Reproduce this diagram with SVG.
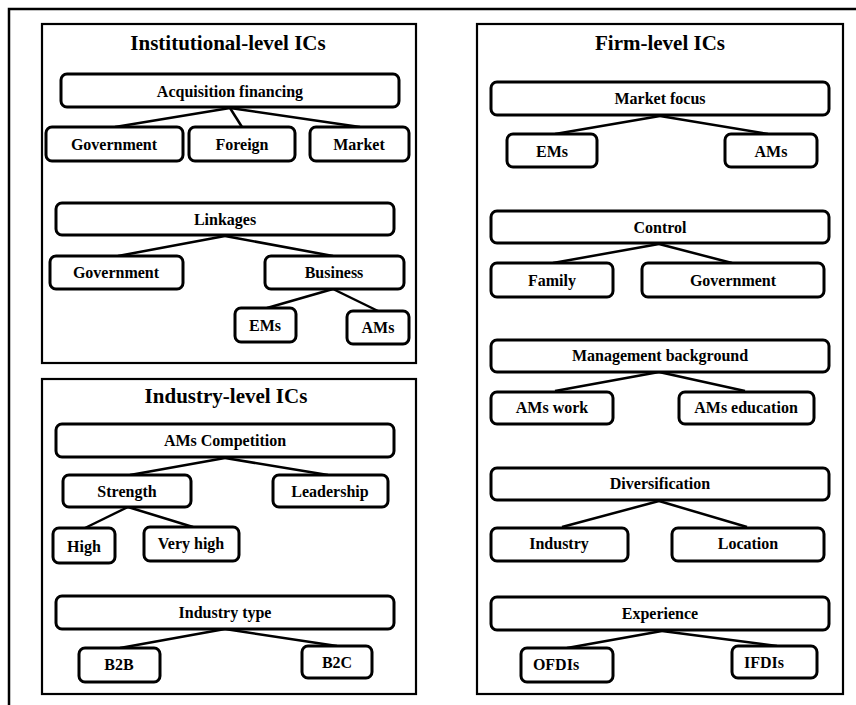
<svg xmlns="http://www.w3.org/2000/svg" width="856" height="705" viewBox="0 0 856 705">
<style>
.frame{fill:none;stroke:#000;stroke-width:2.5}
.panel{fill:none;stroke:#000;stroke-width:2.2}
.box{fill:#fff;stroke:#000;stroke-width:3}
text{font-family:'Liberation Serif','DejaVu Serif',serif;font-weight:bold;text-anchor:middle;fill:#000}
.title{font-size:21px}
.lbl{font-size:16px}
.conn line{stroke:#000;stroke-width:2.5}
</style>
<rect width="856" height="705" fill="#fff"/>
<path class="frame" d="M9,705 V9 H856"/>

<g id="panel-institutional">
<rect class="panel" x="42" y="24" width="374" height="339"/>
<text class="title" x="228" y="50">Institutional-level ICs</text>
</g>
<g id="panel-industry">
<rect class="panel" x="42" y="379" width="374" height="315"/>
<text class="title" x="226" y="403">Industry-level ICs</text>
</g>
<g id="panel-firm">
<rect class="panel" x="477" y="24" width="366" height="670"/>
<text class="title" x="660" y="50">Firm-level ICs</text>
</g>

<g id="connectors" class="conn">
<line x1="230" y1="108" x2="115" y2="127"/>
<line x1="230" y1="108" x2="242" y2="127"/>
<line x1="230" y1="108" x2="360" y2="127"/>
<line x1="225" y1="236" x2="118" y2="256"/>
<line x1="225" y1="236" x2="333" y2="256"/>
<line x1="333" y1="289" x2="267" y2="308"/>
<line x1="333" y1="289" x2="378" y2="311"/>
<line x1="225" y1="458" x2="130" y2="475"/>
<line x1="225" y1="458" x2="328" y2="475"/>
<line x1="128" y1="507" x2="85" y2="528"/>
<line x1="128" y1="507" x2="193" y2="527"/>
<line x1="225" y1="629" x2="120" y2="648"/>
<line x1="225" y1="629" x2="337" y2="646"/>
<line x1="660" y1="116" x2="555" y2="134"/>
<line x1="660" y1="116" x2="768" y2="134"/>
<line x1="659" y1="244" x2="553" y2="263"/>
<line x1="659" y1="244" x2="732" y2="263"/>
<line x1="659" y1="372" x2="555" y2="391"/>
<line x1="659" y1="372" x2="745" y2="391"/>
<line x1="659" y1="501" x2="562" y2="527"/>
<line x1="659" y1="501" x2="747" y2="527"/>
<line x1="662" y1="631" x2="567" y2="648"/>
<line x1="662" y1="631" x2="777" y2="646"/>
</g>

<g id="acquisition-financing"><rect class="box" x="61" y="74" width="338" height="33" rx="6"/><text class="lbl" x="230" y="97">Acquisition financing</text></g>
<g id="af-government"><rect class="box" x="46" y="127" width="137" height="34" rx="6"/><text class="lbl" x="114" y="150">Government</text></g>
<g id="af-foreign"><rect class="box" x="189" y="127" width="106" height="34" rx="6"/><text class="lbl" x="242" y="150">Foreign</text></g>
<g id="af-market"><rect class="box" x="310" y="127" width="99" height="34" rx="6"/><text class="lbl" x="359" y="150">Market</text></g>

<g id="linkages"><rect class="box" x="56" y="203" width="338" height="32" rx="6"/><text class="lbl" x="225" y="225">Linkages</text></g>
<g id="lk-government"><rect class="box" x="50" y="256" width="133" height="33" rx="6"/><text class="lbl" x="116" y="278">Government</text></g>
<g id="lk-business"><rect class="box" x="265" y="256" width="139" height="33" rx="6"/><text class="lbl" x="334" y="278">Business</text></g>
<g id="lk-ems"><rect class="box" x="235" y="308" width="61" height="34" rx="6"/><text class="lbl" x="265" y="331">EMs</text></g>
<g id="lk-ams"><rect class="box" x="347" y="311" width="62" height="33" rx="6"/><text class="lbl" x="378" y="333">AMs</text></g>

<g id="ams-competition"><rect class="box" x="56" y="424" width="338" height="33" rx="6"/><text class="lbl" x="225" y="446">AMs Competition</text></g>
<g id="strength"><rect class="box" x="63" y="475" width="128" height="32" rx="6"/><text class="lbl" x="127" y="497">Strength</text></g>
<g id="leadership"><rect class="box" x="273" y="475" width="115" height="32" rx="6"/><text class="lbl" x="330" y="497">Leadership</text></g>
<g id="high"><rect class="box" x="53" y="528" width="62" height="35" rx="6"/><text class="lbl" x="84" y="552">High</text></g>
<g id="very-high"><rect class="box" x="144" y="527" width="95" height="34" rx="6"/><text class="lbl" x="191" y="549">Very high</text></g>

<g id="industry-type"><rect class="box" x="56" y="596" width="338" height="33" rx="6"/><text class="lbl" x="225" y="618">Industry type</text></g>
<g id="b2b"><rect class="box" x="79" y="648" width="81" height="34" rx="6"/><text class="lbl" x="119" y="670">B2B</text></g>
<g id="b2c"><rect class="box" x="302" y="646" width="70" height="32" rx="6"/><text class="lbl" x="337" y="668">B2C</text></g>

<g id="market-focus"><rect class="box" x="491" y="82" width="338" height="33" rx="6"/><text class="lbl" x="660" y="104">Market focus</text></g>
<g id="mf-ems"><rect class="box" x="507" y="134" width="90" height="33" rx="6"/><text class="lbl" x="552" y="157">EMs</text></g>
<g id="mf-ams"><rect class="box" x="725" y="134" width="92" height="33" rx="6"/><text class="lbl" x="771" y="157">AMs</text></g>

<g id="control"><rect class="box" x="491" y="211" width="338" height="32" rx="6"/><text class="lbl" x="660" y="233">Control</text></g>
<g id="family"><rect class="box" x="491" y="263" width="122" height="34" rx="6"/><text class="lbl" x="552" y="286">Family</text></g>
<g id="ctl-government"><rect class="box" x="642" y="263" width="182" height="34" rx="6"/><text class="lbl" x="733" y="286">Government</text></g>

<g id="management-background"><rect class="box" x="491" y="340" width="338" height="32" rx="6"/><text class="lbl" x="660" y="361">Management background</text></g>
<g id="ams-work"><rect class="box" x="491" y="392" width="122" height="32" rx="6"/><text class="lbl" x="552" y="413">AMs work</text></g>
<g id="ams-education"><rect class="box" x="679" y="392" width="135" height="32" rx="6"/><text class="lbl" x="746" y="413">AMs education</text></g>

<g id="diversification"><rect class="box" x="491" y="468" width="338" height="32" rx="6"/><text class="lbl" x="660" y="489">Diversification</text></g>
<g id="div-industry"><rect class="box" x="491" y="528" width="137" height="33" rx="6"/><text class="lbl" x="559" y="549">Industry</text></g>
<g id="div-location"><rect class="box" x="672" y="528" width="152" height="33" rx="6"/><text class="lbl" x="748" y="549">Location</text></g>

<g id="experience"><rect class="box" x="491" y="597" width="338" height="33" rx="6"/><text class="lbl" x="660" y="619">Experience</text></g>
<g id="ofdis"><rect class="box" x="521" y="648" width="92" height="34" rx="6"/><text class="lbl" x="556" y="670">OFDIs</text></g>
<g id="ifdis"><rect class="box" x="732" y="646" width="85" height="32" rx="6"/><text class="lbl" x="764" y="668">IFDIs</text></g>
</svg>
